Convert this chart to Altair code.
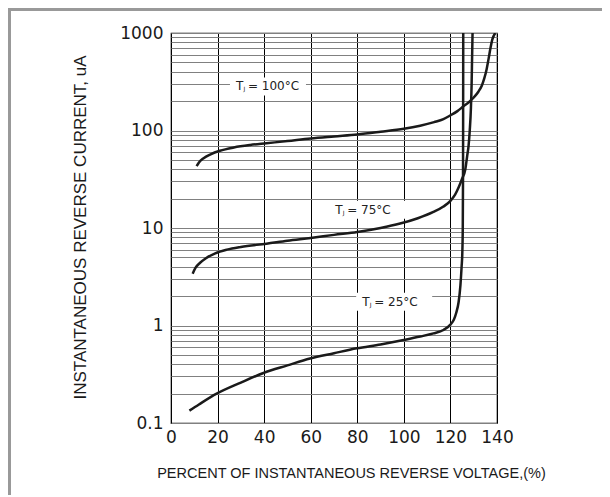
import altair as alt
import pandas as pd

# ---- data ----
t100_x = [11.0, 12.0, 14.0, 17.0, 21.0, 27.0, 34.0, 41.0, 50.0, 60.0, 70.0, 80.0, 90.0, 100.0, 107.0, 113.0, 117.0, 120.0, 123.0, 125.6, 128.0, 130.0, 132.0, 133.5, 134.5, 135.5, 136.4, 137.2, 138.0, 139.3]
t100_y = [43, 47, 52, 57, 62, 67, 71, 74, 78, 83, 87, 91, 97, 104, 112, 122, 131, 143, 158, 177, 196, 218, 250, 290, 340, 420, 546, 700, 860, 1000]

t75_x = [9.3, 10.5, 12.5, 15.0, 19.0, 24.0, 30.0, 41.0, 50.0, 60.0, 70.0, 80.0, 90.0, 98.4, 106.0, 112.7, 117.0, 120.0, 122.0, 123.5, 125.0, 126.4, 127.2, 127.8, 128.3, 128.8, 129.1, 129.3, 129.5]
t75_y = [3.4, 3.9, 4.4, 4.9, 5.5, 6.0, 6.4, 6.9, 7.4, 7.9, 8.5, 9.1, 10.0, 11.1, 12.6, 14.6, 16.6, 19, 22, 26, 32, 40, 55, 70, 100, 170, 300, 550, 1000]

t25_x = [7.9, 12.0, 19.6, 30.0, 39.7, 50.0, 59.7, 70.0, 79.8, 90.0, 99.9, 107.0, 112.7, 117.0, 120.0, 121.5, 122.5, 123.5, 124.3, 124.8, 125.1, 125.3, 125.4, 125.45, 125.5]
t25_y = [0.134, 0.155, 0.2, 0.26, 0.326, 0.39, 0.459, 0.52, 0.583, 0.64, 0.71, 0.77, 0.83, 0.9, 1.02, 1.15, 1.35, 1.73, 2.6, 4.0, 5.5, 10, 30, 100, 1000]

label_names = ["100", "75", "25"]
label_x = [27.9, 70.5, 82.1]
label_y = [283, 15.4, 1.75]
label_rest = ["= 100°C", "= 75°C", "= 25°C"]

x_ticks = [0, 20, 40, 60, 80, 100, 120, 140]
y_decades = [0.1, 1, 10, 100, 1000]
y_grid = [m * d for d in [0.1, 1, 10, 100] for m in range(1, 10)] + [1000]

rows = []
for name, xs, ys in [("100", t100_x, t100_y), ("75", t75_x, t75_y), ("25", t25_x, t25_y)]:
    for i, (a, b) in enumerate(zip(xs, ys)):
        rows.append({"curve": name, "order": i, "v": a, "i": b})
curves = pd.DataFrame(rows)
labels = pd.DataFrame({"curve": label_names, "v": label_x, "i": label_y, "rest": label_rest})

xscale = alt.Scale(domain=[0, 140], nice=False, zero=False)
yscale = alt.Scale(type="log", domain=[0.1, 1000], nice=False)

x_axis = alt.Axis(
    values=x_ticks, grid=True, gridColor="#000000", gridWidth=1, ticks=False,
    domain=False, labelFont="DejaVu Sans", labelFontSize=17, labelColor="#1a1a1a",
    labelPadding=6, labelFlush=False,
    title="PERCENT OF INSTANTANEOUS REVERSE VOLTAGE,(%)",
    titleFont="Liberation Sans", titleFontSize=14.5, titleFontWeight="normal",
    titleColor="#1a1a1a", titleX=180, titleY=50, titleBaseline="middle", titleAlign="center",
)
y_axis = alt.Axis(
    values=y_grid, grid=True, gridColor="#808080", gridWidth=1, ticks=False,
    domain=False, labelFont="DejaVu Sans", labelFontSize=17, labelColor="#1a1a1a",
    labelPadding=8,
    labelExpr="indexof([0.1, 1, 10, 100, 1000], datum.value) >= 0 ? toString(datum.value) : ''",
    title="INSTANTANEOUS  REVERSE  CURRENT, uA",
    titleFont="Liberation Sans", titleFontSize=17, titleFontWeight="normal",
    titleColor="#1a1a1a", titleX=-91, titleY=194, titleAngle=270,
    titleBaseline="middle", titleAlign="center",
)

lines = alt.Chart(curves).mark_line(
    color="#1a1a1a", strokeWidth=2.5, interpolate="monotone", clip=True
).encode(
    x=alt.X("v:Q", scale=xscale, axis=x_axis),
    y=alt.Y("i:Q", scale=yscale, axis=y_axis),
    detail="curve:N",
    order="order:Q",
)

boxes = alt.Chart(labels).mark_rect(
    width=76, height=18, xOffset=32, fill="white"
).encode(x=alt.X("v:Q", scale=xscale), y=alt.Y("i:Q", scale=yscale))

t_text = alt.Chart(labels).mark_text(
    text="T", align="left", baseline="middle", font="DejaVu Sans", fontSize=12, color="#222222"
).encode(x=alt.X("v:Q", scale=xscale), y=alt.Y("i:Q", scale=yscale))

j_text = alt.Chart(labels).mark_text(
    text="J", align="left", baseline="middle", font="DejaVu Sans", fontSize=6,
    dx=7.5, dy=3, color="#222222"
).encode(x=alt.X("v:Q", scale=xscale), y=alt.Y("i:Q", scale=yscale))

rest_text = alt.Chart(labels).mark_text(
    align="left", baseline="middle", font="DejaVu Sans", fontSize=12, dx=12, color="#222222"
).encode(x=alt.X("v:Q", scale=xscale), y=alt.Y("i:Q", scale=yscale), text="rest:N")

frame_left = alt.Chart(labels).mark_rule(color="#999999", strokeWidth=3).encode(
    x=alt.value(-161.5), y=alt.value(-25), y2=alt.value(470)
)
frame_top = alt.Chart(labels).mark_rule(color="#999999", strokeWidth=3).encode(
    x=alt.value(-163), x2=alt.value(432), y=alt.value(-23.5)
)

chart = alt.layer(boxes, lines, t_text, j_text, rest_text, frame_left, frame_top).properties(
    width=326, height=390,
    autosize=alt.AutoSizeParams(type="none"),
    padding={"left": 163, "top": 25, "right": 105, "bottom": 72},
    background="white",
).configure_view(stroke="#000000", strokeWidth=1.2)

chart.save("out.html", embed_options={"renderer": "svg", "actions": False})
